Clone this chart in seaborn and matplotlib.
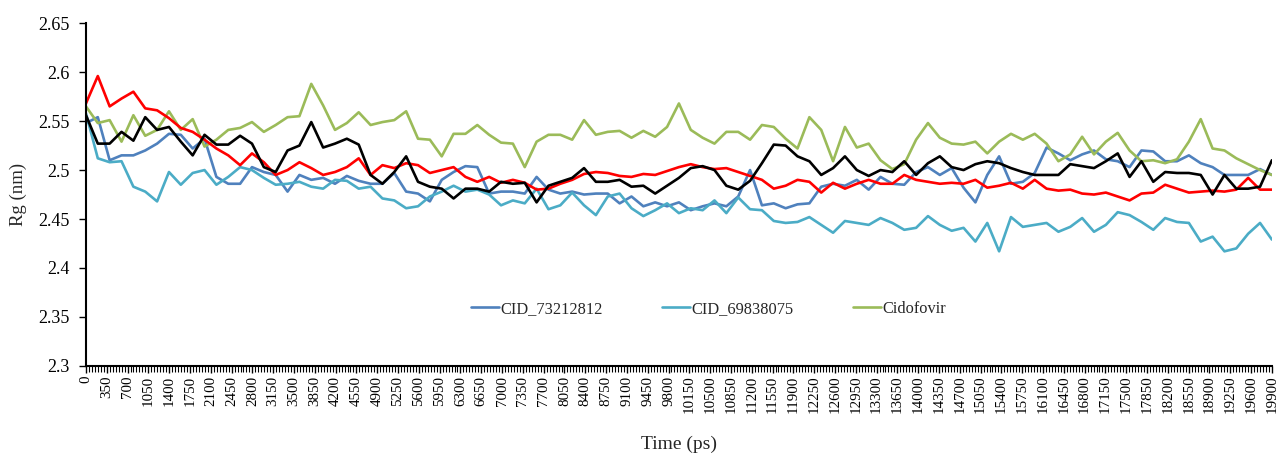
import numpy as np
import pandas as pd
import seaborn as sns
from matplotlib import pyplot as plt
from matplotlib.ticker import FuncFormatter, MultipleLocator

# Rg traces, one value every ~200 ps
time_ps = np.linspace(0, 19950, 101)

cid_73212812 = [2.548, 2.554, 2.510, 2.515, 2.515, 2.520, 2.527, 2.537, 2.536, 2.522,
                2.532, 2.493, 2.486, 2.486, 2.503, 2.498, 2.495, 2.478, 2.495, 2.490,
                2.492, 2.486, 2.494, 2.489, 2.486, 2.486, 2.497, 2.478, 2.476, 2.468,
                2.490, 2.498, 2.504, 2.503, 2.476, 2.478, 2.478, 2.476, 2.493, 2.480,
                2.476, 2.478, 2.475, 2.476, 2.476, 2.466, 2.473, 2.463, 2.467, 2.463,
                2.467, 2.459, 2.463, 2.466, 2.463, 2.473, 2.500, 2.464, 2.466, 2.461,
                2.465, 2.466, 2.483, 2.486, 2.484, 2.490, 2.480, 2.493, 2.486, 2.485,
                2.498, 2.503, 2.495, 2.502, 2.482, 2.467, 2.495, 2.514, 2.486, 2.488,
                2.497, 2.523, 2.517, 2.510, 2.516, 2.520, 2.511, 2.509, 2.503, 2.520,
                2.519, 2.509, 2.509, 2.515, 2.507, 2.503, 2.495, 2.495, 2.495, 2.501, 2.495]

cid_69838075 = [2.558, 2.512, 2.508, 2.509, 2.483, 2.478, 2.468, 2.498, 2.485, 2.497,
                2.500, 2.485, 2.493, 2.503, 2.500, 2.492, 2.485, 2.486, 2.488, 2.483,
                2.481, 2.490, 2.489, 2.481, 2.483, 2.471, 2.469, 2.461, 2.463, 2.473,
                2.478, 2.484, 2.478, 2.480, 2.475, 2.464, 2.469, 2.466, 2.481, 2.460,
                2.464, 2.477, 2.464, 2.454, 2.473, 2.476, 2.461, 2.453, 2.459, 2.466,
                2.456, 2.461, 2.459, 2.469, 2.456, 2.472, 2.460, 2.459, 2.448, 2.446,
                2.447, 2.452, 2.444, 2.436, 2.448, 2.446, 2.444, 2.451, 2.446, 2.439,
                2.441, 2.453, 2.444, 2.438, 2.441, 2.427, 2.446, 2.417, 2.452, 2.442,
                2.444, 2.446, 2.437, 2.442, 2.451, 2.437, 2.444, 2.457, 2.454, 2.447,
                2.439, 2.451, 2.447, 2.446, 2.427, 2.432, 2.417, 2.420, 2.435, 2.446, 2.429]

cidofovir = [2.565, 2.548, 2.551, 2.529, 2.556, 2.535, 2.541, 2.560, 2.541, 2.552,
             2.524, 2.531, 2.541, 2.543, 2.549, 2.539, 2.546, 2.554, 2.555, 2.588,
             2.566, 2.541, 2.548, 2.559, 2.546, 2.549, 2.551, 2.560, 2.532, 2.531,
             2.514, 2.537, 2.537, 2.546, 2.536, 2.528, 2.527, 2.503, 2.529, 2.536,
             2.536, 2.531, 2.551, 2.536, 2.539, 2.540, 2.533, 2.540, 2.534, 2.544,
             2.568, 2.541, 2.533, 2.527, 2.539, 2.539, 2.531, 2.546, 2.544, 2.532,
             2.522, 2.554, 2.541, 2.509, 2.544, 2.523, 2.527, 2.510, 2.501, 2.506,
             2.531, 2.548, 2.533, 2.527, 2.526, 2.529, 2.517, 2.529, 2.537, 2.531,
             2.537, 2.527, 2.509, 2.516, 2.534, 2.516, 2.529, 2.538, 2.520, 2.509,
             2.510, 2.507, 2.511, 2.529, 2.552, 2.522, 2.520, 2.512, 2.506, 2.500, 2.495]

# two unlabeled traces (red and black in the original)
series_red = [2.568, 2.596, 2.565, 2.573, 2.580, 2.563, 2.561, 2.553, 2.543, 2.539,
              2.531, 2.522, 2.515, 2.505, 2.517, 2.508, 2.495, 2.500, 2.508, 2.502,
              2.495, 2.498, 2.503, 2.512, 2.495, 2.505, 2.502, 2.507, 2.505, 2.497,
              2.500, 2.503, 2.493, 2.488, 2.493, 2.487, 2.490, 2.487, 2.480, 2.481,
              2.486, 2.490, 2.496, 2.498, 2.497, 2.494, 2.493, 2.496, 2.495, 2.499,
              2.503, 2.506, 2.503, 2.501, 2.502, 2.498, 2.494, 2.490, 2.481, 2.484,
              2.490, 2.488, 2.477, 2.487, 2.481, 2.486, 2.490, 2.486, 2.486, 2.495,
              2.490, 2.488, 2.486, 2.487, 2.486, 2.490, 2.482, 2.484, 2.487, 2.481,
              2.490, 2.481, 2.479, 2.480, 2.476, 2.475, 2.477, 2.473, 2.469, 2.476,
              2.477, 2.485, 2.481, 2.477, 2.478, 2.479, 2.478, 2.480, 2.492, 2.480, 2.480]

series_black = [2.556, 2.527, 2.527, 2.539, 2.530, 2.554, 2.541, 2.544, 2.529, 2.515,
                2.536, 2.526, 2.526, 2.535, 2.527, 2.503, 2.498, 2.520, 2.525, 2.549,
                2.523, 2.527, 2.532, 2.526, 2.495, 2.486, 2.498, 2.514, 2.488, 2.483,
                2.481, 2.471, 2.481, 2.481, 2.478, 2.488, 2.486, 2.487, 2.467, 2.484,
                2.488, 2.492, 2.502, 2.488, 2.488, 2.490, 2.483, 2.484, 2.476, 2.484,
                2.492, 2.502, 2.504, 2.500, 2.484, 2.480, 2.489, 2.507, 2.526, 2.525,
                2.514, 2.509, 2.495, 2.502, 2.514, 2.500, 2.494, 2.500, 2.498, 2.509,
                2.495, 2.507, 2.514, 2.503, 2.500, 2.506, 2.509, 2.507, 2.502, 2.498,
                2.495, 2.495, 2.495, 2.506, 2.504, 2.502, 2.509, 2.517, 2.493, 2.509,
                2.488, 2.498, 2.497, 2.497, 2.495, 2.475, 2.495, 2.481, 2.481, 2.483, 2.510]

series_names = ["CID_73212812", "CID_69838075", "Cidofovir", "Series4", "Series5"]
colors = ["#4F81BD", "#4BACC6", "#9BBB59", "#FF0000", "#000000"]

x_tick_values = list(range(0, 19951, 350))
x_tick_labels = [str(v) for v in range(0, 19601, 350)] + ["19900"]

df = pd.DataFrame({"time": time_ps,
                   "CID_73212812": cid_73212812,
                   "CID_69838075": cid_69838075,
                   "Cidofovir": cidofovir,
                   "Series4": series_red,
                   "Series5": series_black})
df_long = df.melt(id_vars="time", var_name="compound", value_name="rg")

sns.set_style("white")
plt.rcParams["font.family"] = ["Liberation Serif", "DejaVu Serif"]

fig = plt.figure(figsize=(12.77, 4.54), dpi=100)
ax = fig.add_axes([0.0673, 0.194, 0.9287, 0.755])

sns.lineplot(data=df_long, x="time", y="rg", hue="compound",
             hue_order=series_names, palette=colors, linewidth=1.9, ax=ax)

ax.set_xlim(0, 19950)
ax.set_ylim(2.3, 2.65)
ax.set_yticks(np.arange(2.3, 2.651, 0.05))
ax.yaxis.set_major_formatter(FuncFormatter(lambda v, p: "%g" % round(v, 2)))
ax.set_xticks(x_tick_values)
ax.set_xticklabels(x_tick_labels, rotation=90)
ax.xaxis.set_minor_locator(MultipleLocator(50))

ax.tick_params(axis="x", which="major", direction="out", length=5, width=1,
               colors="black", labelsize=10.8, pad=2, bottom=True)
ax.tick_params(axis="x", which="minor", direction="out", length=4, width=0.8,
               bottom=True, colors="black")
ax.tick_params(axis="y", which="major", direction="out", length=5, width=1,
               colors="black", labelsize=13, pad=7, left=True)

for side in ["top", "right"]:
    ax.spines[side].set_visible(False)
for side in ["left", "bottom"]:
    ax.spines[side].set_color("black")
    ax.spines[side].set_linewidth(1.5)

ax.set_xlabel("Time (ps)", fontsize=14, labelpad=16)
ax.set_ylabel("Rg (nm)", fontsize=13.5, labelpad=8)

handles, labels = ax.get_legend_handles_labels()
ax.legend(handles[:3], labels[:3], loc="center", bbox_to_anchor=(0.525, 0.166),
          ncol=3, frameon=False, fontsize=11.8, handlelength=1.7,
          handletextpad=0.12, columnspacing=3.6)

fig.savefig("out.png", dpi=100)
